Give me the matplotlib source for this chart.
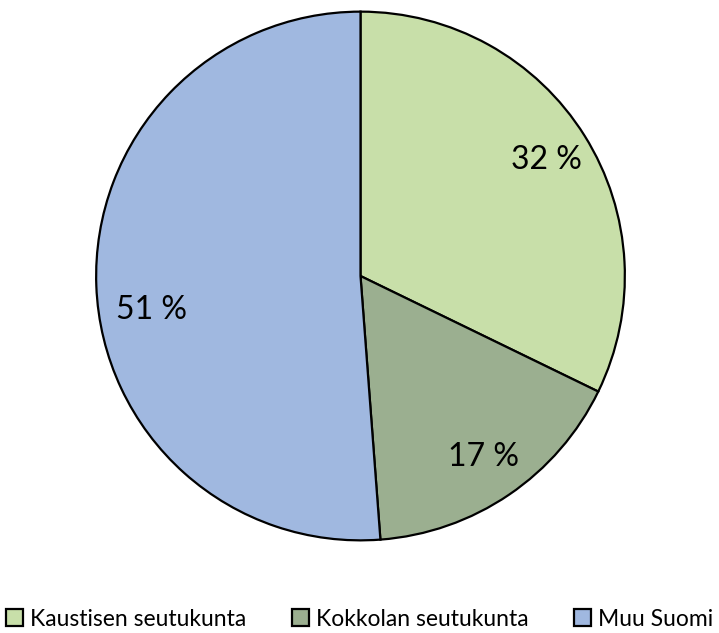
import matplotlib
matplotlib.use('Agg')
import matplotlib.pyplot as plt

labels = ["Kaustisen seutukunta", "Kokkolan seutukunta", "Muu Suomi"]
shares = [32.2, 16.6, 51.2]
colors = ['#C8DFA9', '#9BAF90', '#A0B8E0']

plt.rcParams['font.family'] = ['Lato', 'DejaVu Sans']

fig = plt.figure(figsize=(7.19, 6.33), dpi=100)
r = 267
cx, cy = 360.5, 633 - 276
ax = fig.add_axes([(cx - r) / 719, (cy - r) / 633, 2 * r / 719, 2 * r / 633])

wedges, texts, autotexts = ax.pie(
    shares, colors=colors, startangle=90, counterclock=False,
    autopct=lambda p: '%d %%' % round(p), pctdistance=0.83,
    wedgeprops=dict(edgecolor='black', linewidth=1.6),
    textprops=dict(fontsize=23, color='black'))
# Excel put the 51 % label a bit lower than the wedge middle
autotexts[2].set_position((-0.79, -0.13))
ax.set_xlim(-1.01, 1.01)
ax.set_ylim(-1.01, 1.01)
ax.set_aspect('equal')

fig.legend(wedges, labels, loc='center', bbox_to_anchor=(0.5, 1 - 619 / 633),
           ncol=3, frameon=False, fontsize=16.5, handlelength=0.75, handleheight=0.75,
           handletextpad=0.3, columnspacing=2.0)

fig.savefig('out.png', dpi=100)
